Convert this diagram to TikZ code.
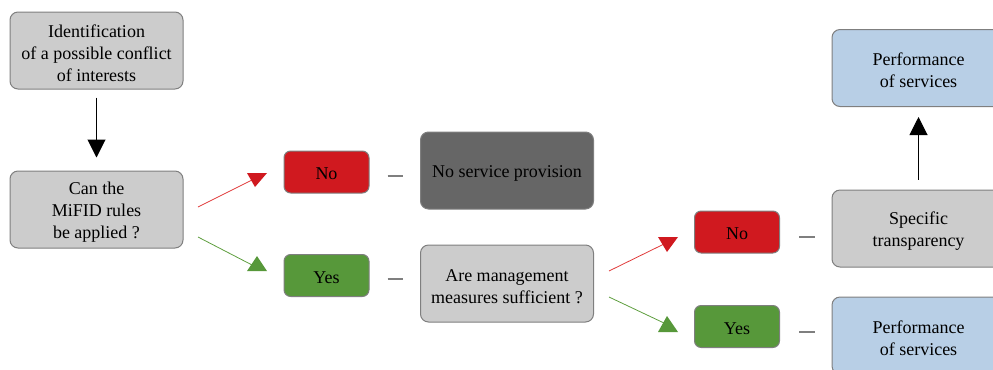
\documentclass[tikz,border=0pt]{standalone}
\usepackage{fontspec}
\setmainfont{Liberation Serif}
\usetikzlibrary{arrows.meta,calc}
\definecolor{boxgray}{HTML}{CCCCCC}
\definecolor{darkbox}{HTML}{666666}
\definecolor{bluebox}{HTML}{B8CFE6}
\definecolor{redbox}{HTML}{D0191F}
\definecolor{greenbox}{HTML}{57983A}
\definecolor{redline}{HTML}{E03A3A}
\definecolor{greenline}{HTML}{5E9E3E}
\definecolor{bordergray}{HTML}{7F7F7F}
\newcommand{\topsh}{\rule{0pt}{13pt}}
\begin{document}
\begin{tikzpicture}[x=0.75pt,y=-0.75pt,
  font=\fontsize{13.5}{16.5}\selectfont,
  bigbox/.style={draw=bordergray,line width=0.75pt,rounded corners=6pt,
    minimum width=129.75pt,minimum height=57.75pt,align=center,inner sep=2pt,
    execute at begin node={\rule{0pt}{13.5pt}}},
  multibox/.style={draw=bordergray,line width=0.75pt,rounded corners=6pt,
    minimum width=129.75pt,minimum height=57.75pt,align=center,inner sep=2pt},
  smallbox/.style={draw=bordergray,line width=0.75pt,rounded corners=5pt,
    minimum width=63.75pt,minimum height=31.5pt,align=center,inner sep=2pt,
    execute at begin node={\rule{0pt}{12pt}}},
  dashline/.style={draw=bordergray,line width=0.9pt},
  blackarrow/.style={draw=black,line width=0.75pt,-{Triangle[width=13.5pt,length=13.5pt]}},
  redconn/.style={draw=redline,line width=0.6pt},
  greenconn/.style={draw=greenline,line width=0.6pt}]
\useasboundingbox (0,0) rectangle (993,369);
\clip (0,0) rectangle (993,369);

\node[multibox,fill=boxgray] (id) at (96.5,50.5) {\topsh Identification\\of a possible conflict\\of interests};
\node[multibox,fill=boxgray] (can) at (96.5,209.5) {\topsh Can the\\MiFID rules\\be applied ?};
\node[smallbox,fill=redbox] (no1) at (326.5,172) {No};
\node[smallbox,fill=greenbox] (yes1) at (326.5,275.5) {Yes};
\node[bigbox,fill=darkbox] (nsp) at (507,170.5) {No service provision};
\node[multibox,fill=boxgray] (amm) at (507,283.5) {\topsh Are management\\measures sufficient ?};
\node[smallbox,fill=redbox] (no2) at (737,232) {No};
\node[smallbox,fill=greenbox] (yes2) at (737,326.5) {Yes};
\node[multibox,fill=bluebox] (perf1) at (918.5,68) {\topsh Performance\\of services};
\node[multibox,fill=boxgray] (spec) at (918.5,228.5) {\topsh Specific\\transparency};
\node[multibox,fill=bluebox] (perf2) at (918.5,335.5) {\topsh Performance\\of services};

% vertical arrows
\draw[blackarrow] ($(id.south)+(0,8)$) -- ($(can.north)+(0,-13)$);
\draw[blackarrow] ($(spec.north)+(0,-10)$) -- ($(perf1.south)+(0,10)$);

% dashes
\draw[dashline] ($(no1.east)+(18,4)$) -- ($(nsp.west)+(-17,5.5)$);
\draw[dashline] ($(yes1.east)+(18,3.5)$) -- ($(amm.west)+(-17,-4.5)$);
\draw[dashline] ($(no2.east)+(19,5)$) -- ($(spec.west)+(-17,8.5)$);
\draw[dashline] ($(yes2.east)+(19,5.5)$) -- ($(perf2.west)+(-17,-3.5)$);

% decision connectors
\coordinate (r1s) at (198,207); \coordinate (r1e) at (254,179);
\coordinate (g1s) at (198,237); \coordinate (g1e) at (254,266);
\coordinate (r2s) at (609,271); \coordinate (r2e) at (664,244);
\coordinate (g2s) at (609,297); \coordinate (g2e) at (664,323);
\draw[redconn] (r1s) -- (r1e);
\fill[redbox] (247,173) -- (267,173) -- (255,187) -- cycle;
\draw[greenconn] (g1s) -- (g1e);
\fill[greenbox] (247,271) -- (267,271) -- (257,256) -- cycle;
\draw[redconn] (r2s) -- (r2e);
\fill[redbox] (658,237) -- (678,237) -- (667,252) -- cycle;
\draw[greenconn] (g2s) -- (g2e);
\fill[greenbox] (658,332) -- (678,332) -- (667,316) -- cycle;
\end{tikzpicture}
\end{document}
